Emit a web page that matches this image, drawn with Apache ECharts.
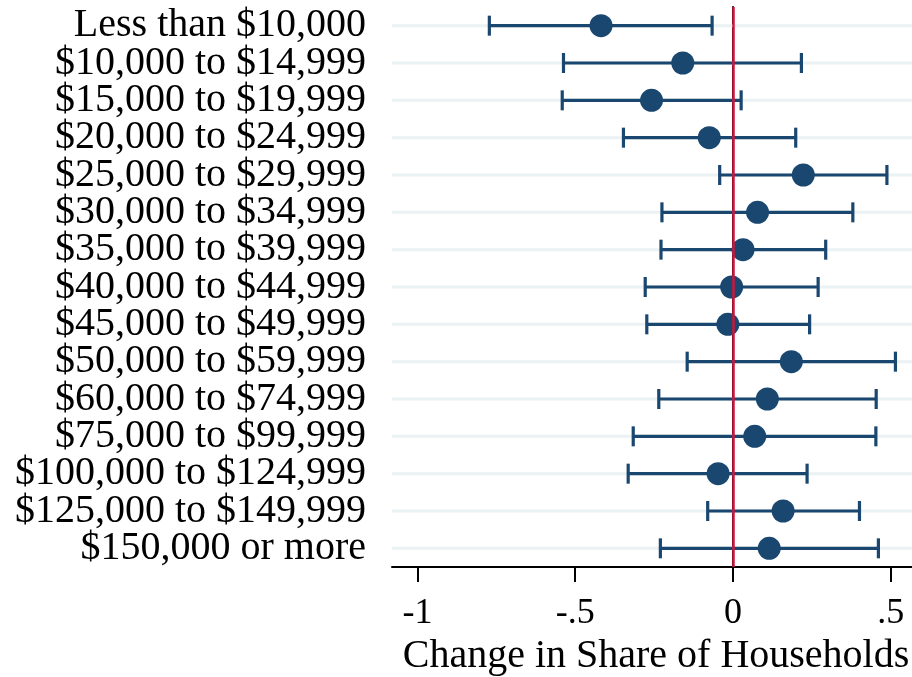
<!DOCTYPE html>
<html>
<head>
<meta charset="utf-8">
<script src="https://cdn.jsdelivr.net/npm/echarts@6/dist/echarts.min.js"></script>
<style>
html,body{margin:0;padding:0;background:#fff;}
#chart{width:912px;height:677px;}
</style>
</head>
<body>
<div id="chart"></div>
<script>
const categories = [
  "Less than $10,000", "$10,000 to $14,999", "$15,000 to $19,999", "$20,000 to $24,999",
  "$25,000 to $29,999", "$30,000 to $34,999", "$35,000 to $39,999", "$40,000 to $44,999",
  "$45,000 to $49,999", "$50,000 to $59,999", "$60,000 to $74,999", "$75,000 to $99,999",
  "$100,000 to $124,999", "$125,000 to $149,999", "$150,000 or more"
];
const estimates = [-0.418, -0.159, -0.258, -0.075, 0.223, 0.078, 0.032, -0.004, -0.016, 0.185, 0.109, 0.069, -0.047, 0.159, 0.115];
const lower     = [-0.772, -0.537, -0.541, -0.347, -0.042, -0.225, -0.228, -0.278, -0.273, -0.145, -0.235, -0.316, -0.332, -0.080, -0.230];
const upper     = [-0.066, 0.217, 0.026, 0.199, 0.488, 0.380, 0.294, 0.270, 0.243, 0.515, 0.454, 0.453, 0.235, 0.401, 0.461];
const xTickValues = [-1, -0.5, 0, 0.5];
const xTickLabels = ["-1", "-.5", "0", ".5"];
const xMin = -1.0805, xMax = 0.5675;

const navy = '#1a476f';
const font = 'Liberation Serif, Times New Roman, serif';

const barData = categories.map((c, i) => [i, lower[i], upper[i]]);
const ptData = categories.map((c, i) => [estimates[i], i]);
const gridData = categories.map((c, i) => [i]);

const chart = echarts.init(document.getElementById('chart'), null, {renderer: 'canvas'});
chart.setOption({
  animation: false,
  backgroundColor: '#fff',
  grid: {left: 392, right: 0, top: 7, bottom: 110, containLabel: false, outerBoundsMode: 'none'},
  xAxis: {
    type: 'value', min: xMin, max: xMax,
    axisLine: {show: true, onZero: false, lineStyle: {color: '#000', width: 2}},
    axisTick: {show: true, length: 15, lineStyle: {color: '#000', width: 2}, customValues: xTickValues},
    axisLabel: {
      customValues: xTickValues, margin: 29, color: '#000', fontFamily: font, fontSize: 36,
      formatter: v => { const k = xTickValues.findIndex(t => Math.abs(t - v) < 1e-9); return k >= 0 ? xTickLabels[k] : ''; }
    },
    splitLine: {show: false},
    name: 'Change in Share of Households', nameLocation: 'middle', nameGap: 68,
    nameTextStyle: {color: '#000', fontFamily: font, fontSize: 40, padding: [0, 0, 0, 8]}
  },
  yAxis: {
    type: 'category', data: categories, inverse: true, boundaryGap: true,
    axisLine: {show: true, lineStyle: {color: '#000', width: 2}},
    axisTick: {show: true, alignWithLabel: true, interval: 0, length: 16, lineStyle: {color: '#000', width: 2}},
    axisLabel: {interval: 0, margin: 26, color: '#000', fontFamily: font, fontSize: 40, padding: [8, 0, 0, 0]},
    splitLine: {show: false}
  },
  series: [
    {
      type: 'custom', silent: true, z: 1,
      data: gridData,
      encode: {y: 0},
      renderItem: function (params, api) {
        const cs = params.coordSys;
        const p = api.coord([xMin, api.value(0)]);
        return {type: 'line', shape: {x1: cs.x, y1: p[1], x2: cs.x + cs.width, y2: p[1]},
                style: {stroke: '#eaf2f3', lineWidth: 3}};
      }
    },
    {
      type: 'custom', silent: true, z: 2,
      data: barData,
      encode: {x: [1, 2], y: 0},
      renderItem: function (params, api) {
        const idx = api.value(0);
        const a = api.coord([api.value(1), idx]);
        const b = api.coord([api.value(2), idx]);
        const h = 10;
        const st = {stroke: navy, lineWidth: 3.2};
        return {type: 'group', children: [
          {type: 'line', shape: {x1: a[0], y1: a[1], x2: b[0], y2: b[1]}, style: st},
          {type: 'line', shape: {x1: a[0], y1: a[1] - h, x2: a[0], y2: a[1] + h}, style: st},
          {type: 'line', shape: {x1: b[0], y1: b[1] - h, x2: b[0], y2: b[1] + h}, style: st}
        ]};
      }
    },
    {
      type: 'scatter', z: 3, silent: true,
      data: ptData, symbol: 'circle', symbolSize: 23,
      itemStyle: {color: navy, opacity: 1},
      markLine: {
        silent: true, symbol: 'none', z: 10,
        label: {show: false},
        lineStyle: {color: '#d0143c', width: 2.5, type: 'solid'},
        data: [{xAxis: 0}]
      }
    }
  ]
});
</script>
</body>
</html>
